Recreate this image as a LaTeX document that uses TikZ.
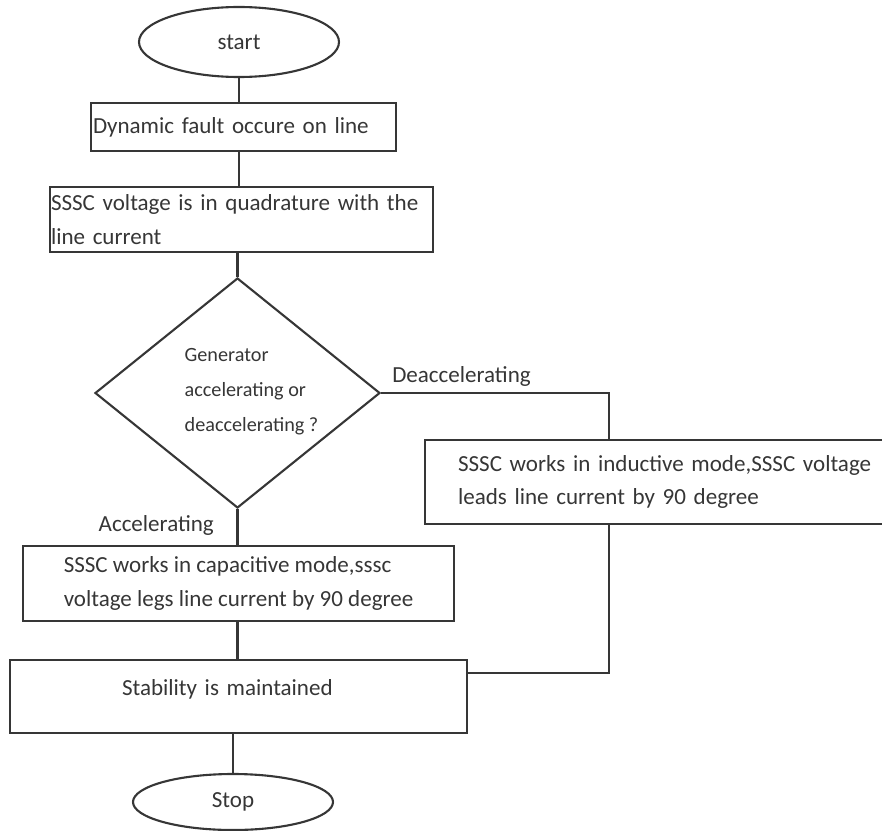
\documentclass[tikz,border=0pt]{standalone}
\usepackage{fontspec}
\setmainfont{Carlito}
\usepackage{tikz}
\usetikzlibrary{shapes.geometric,positioning}
\definecolor{inkgray}{HTML}{363636}
\tikzset{
        procbox/.style={rectangle, draw=inkgray, line width=1.2pt, text=inkgray, align=left, inner ysep=0pt},
        termnode/.style={ellipse, draw=inkgray, line width=1.2pt, text=inkgray, minimum width=4cm},
        flowline/.style={draw=inkgray, line width=1.2pt}
    }

\begin{document}
\begin{tikzpicture}[font=\fontsize{13.1}{19}\selectfont]
\useasboundingbox (0,0) rectangle (17.64,-16.6);
\clip (0,0) rectangle (17.64,-16.6);
% main column
\node (start)[termnode, minimum height=1.4cm] at (4.78,-0.84) {start};
\node (fault)[procbox, text width=6.02cm, minimum height=0.96cm, inner xsep=0.04cm] at (4.87,-2.54) {Dynamic fault occure on line};
\node (quad)[procbox, text width=7.62cm, minimum height=1.3cm, inner xsep=0.02cm] at (4.83,-4.39) {SSSC voltage is in quadrature with the\\line current};
\node (decide)[diamond, draw=inkgray, line width=1.2pt, minimum width=5.7cm, minimum height=4.6cm, inner sep=0pt] at (4.75,-7.86) {};
\node (question)[text=inkgray, align=left, inner sep=0pt, font=\fontsize{11.5}{19.9}\selectfont] at (5.03,-7.84) {Generator\\accelerating or\\deaccelerating ?};
\node (capmode)[procbox, minimum width=8.62cm, minimum height=1.5cm] at (4.77,-11.67) {SSSC works in capacitive mode,sssc\\voltage legs line current by 90 degree};
\node (stable)[procbox, text width=4.66cm, inner xsep=2.24cm, minimum height=1.46cm, text depth=0.38cm] at (4.77,-13.93) {Stability is maintained};
\node (stop)[termnode, minimum height=1.12cm] at (4.66,-16.04) {Stop};
% side branch
\node (indmode)[procbox, anchor=west, text width=9.4cm, inner xsep=0.66cm, minimum height=1.68cm] at (8.48,-9.64) {SSSC works in inductive mode,SSSC voltage\\leads line current by 90 degree};
\node (deacc)[text=inkgray, above right=0cm and 0.1cm of decide.east] {Deaccelerating};
\node (acc)[text=inkgray, below left=0cm and 0.35cm of decide.south] {Accelerating};
\coordinate (split) at (12.18,-7.86);
\coordinate (merge) at (12.18,-13.46);

\draw[flowline] (start) -- (start |- fault.north);
\draw[flowline] (fault.south -| start) -- (quad.north -| start);
\draw[flowline] (quad.south -| decide) -- (decide);
\draw[flowline] (decide) -- (capmode.north -| decide);
\draw[flowline] (capmode.south -| decide) -- (stable.north -| decide);
\draw[flowline] (stable.south -| stop) -- (stop);
\draw[flowline] (decide.east) -- (split) -- (split |- indmode.north);
\draw[flowline] (split |- indmode.south) -- (merge) -- (merge -| stable.east);

\end{tikzpicture}
\end{document}
